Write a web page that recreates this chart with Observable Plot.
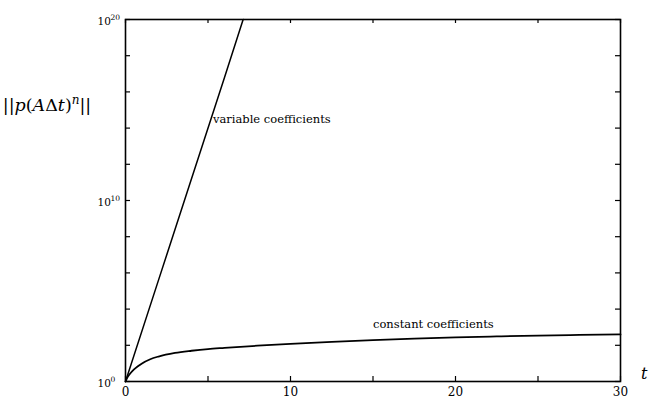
<!DOCTYPE html>
<html>
<head>
<meta charset="utf-8">
<script src="https://cdn.jsdelivr.net/npm/d3@7"></script>
<script src="https://cdn.jsdelivr.net/npm/@observablehq/plot@0.6"></script>
<style>
  html, body { margin: 0; padding: 0; background: #fff; }
  #chart svg { display: block; }
</style>
</head>
<body>
<div id="chart"></div>
<script>
// Variable coefficients (straight line in log scale)
const varT = [0, 2, 4, 6, 7.13];
const varNorm = [1, 3.98e5, 1.58e11, 6.3e16, 1e20];

// Constant coefficients
const constT = [0, 0.1, 0.25, 0.5, 0.75, 1, 1.5, 2, 3, 4, 5, 6, 8, 10, 12.5, 15, 17.5, 20, 22.5, 25, 27.5, 30];
const constNorm = [1, 1.6, 2.5, 4.5, 7, 10, 17, 24, 38, 50, 62, 72, 95, 120, 155, 195, 235, 275, 310, 345, 372, 398];

// Ticks
const xMajor = [0, 10, 20, 30];
const xMinor = [5, 15, 25];
const xLabels = ["0", "10", "20", "30"];
const yTicks = [1, 1e2, 1e4, 1e6, 1e8, 1e10, 1e12, 1e14, 1e16, 1e18, 1e20];
const yLabelValues = [1, 1e10, 1e20];
const yLabelBase = ["10", "10", "10"];
const yLabelExp = ["0", "10", "20"];

const varData = varT.map((t, i) => ({t, v: varNorm[i]}));
const constData = constT.map((t, i) => ({t, v: constNorm[i]}));
const xAll = xMajor.concat(xMinor);

const W = 651, H = 397, mL = 125, mR = 31, mT = 19, mB = 16;
const fh = H - mT - mB, fw = W - mL - mR;
const font = "'DejaVu Serif', serif";

const plot = Plot.plot({
  width: W, height: H,
  marginLeft: mL, marginRight: mR, marginTop: mT, marginBottom: mB,
  style: {background: "#fff", color: "#000", fontFamily: font},
  x: {domain: [0, 30], axis: null},
  y: {type: "log", domain: [1, 1e20], axis: null},
  marks: [
    // inward ticks
    Plot.ruleX(xAll, {x: d => d, insetTop: fh - 5, stroke: "#000", strokeWidth: 1.2}),
    Plot.ruleX(xAll, {x: d => d, insetBottom: fh - 4, stroke: "#000", strokeWidth: 1.2}),
    Plot.ruleY(yTicks, {y: d => d, insetRight: fw - 5, stroke: "#000", strokeWidth: 1.2}),
    Plot.ruleY(yTicks, {y: d => d, insetLeft: fw - 5, stroke: "#000", strokeWidth: 1.2}),
    Plot.frame({stroke: "#000", strokeWidth: 1.6}),
    Plot.line(varData, {x: "t", y: "v", stroke: "#000", strokeWidth: 1.5}),
    Plot.line(constData, {x: "t", y: "v", stroke: "#000", strokeWidth: 1.8, curve: "monotone-x"}),
    // tick labels
    Plot.text(xMajor, {x: d => d, text: (d, i) => xLabels[i], frameAnchor: "bottom", dy: 14, fontSize: 12, fill: "#000"}),
    Plot.text(yLabelValues, {y: d => d, text: (d, i) => yLabelBase[i], frameAnchor: "left", textAnchor: "start", dx: -28, dy: 2, fontSize: 10.5, fill: "#000"}),
    Plot.text(yLabelValues, {y: d => d, text: (d, i) => yLabelExp[i], frameAnchor: "left", textAnchor: "start", dx: -15, dy: -2, fontSize: 7.5, fill: "#000"}),
    // annotations
    Plot.text(["variable coefficients"], {x: 5.3, y: 3.2e14, text: d => d, textAnchor: "start", fontSize: 11.5, fill: "#000"}),
    Plot.text(["constant coefficients"], {x: 15.0, y: 1500, text: d => d, textAnchor: "start", fontSize: 11.5, fill: "#000"}),
    Plot.text(["t"], {x: 30, y: 1, text: d => d, frameAnchor: "bottom-right", dx: 27, dy: -3, fontSize: 16, fontStyle: "italic", fill: "#000"})
  ]
});

document.getElementById("chart").appendChild(plot);

// Y-axis label with mixed italic/upright parts
const svg = d3.select(plot);
const lbl = svg.append("text")
  .attr("x", 47).attr("y", 111)
  .attr("text-anchor", "middle")
  .attr("font-size", 17.5)
  .attr("fill", "#000");
const parts = [["||", "normal"], ["p", "italic"], ["(", "normal"], ["A", "italic"], ["\u0394", "normal"], ["t", "italic"], [")", "normal"]];
parts.forEach(([s, st]) => lbl.append("tspan").attr("font-style", st).text(s));
lbl.append("tspan").attr("font-style", "italic").attr("font-size", 12).attr("dy", -7).text("n");
lbl.append("tspan").attr("font-style", "normal").attr("dy", 7).text("||");

svg.selectAll("text").style("font-family", font);
</script>
</body>
</html>
